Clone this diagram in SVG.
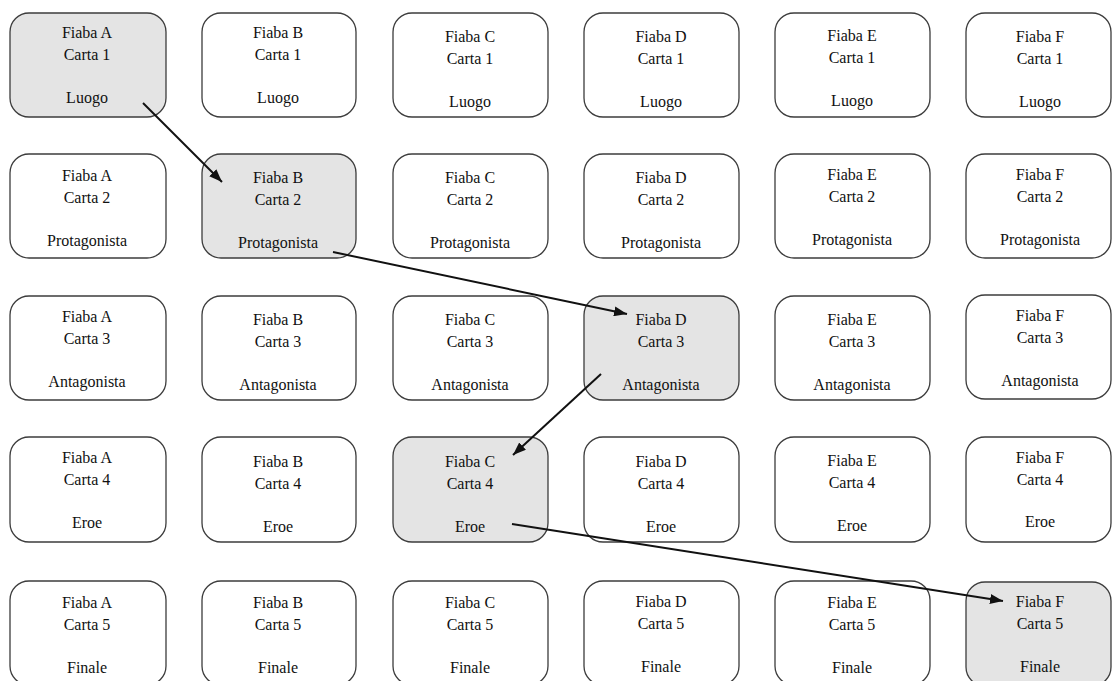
<svg xmlns="http://www.w3.org/2000/svg" width="1113" height="681" viewBox="0 0 1113 681">
<defs>
<style>
.box{fill:#ffffff;stroke:#3c3c3c;stroke-width:1.3}
.hl{fill:#e4e4e4}
text{font-family:"Liberation Serif","Times New Roman",serif;font-size:16px;fill:#111;text-anchor:middle}
.conn{stroke:#111;stroke-width:2;fill:none;marker-end:url(#ah)}
</style>
<marker id="ah" markerUnits="userSpaceOnUse" markerWidth="13" markerHeight="10" refX="13" refY="5" orient="auto">
<path d="M0,0 L13,5 L0,10 z" fill="#111"/>
</marker>
</defs>
<rect width="1113" height="681" fill="#fff"/>

<!-- Row 1 -->
<g id="A1"><rect class="box hl" x="10" y="13" width="156" height="104" rx="19"/><text x="87" y="38">Fiaba A</text><text x="87" y="60">Carta 1</text><text x="87" y="103">Luogo</text></g>
<g id="B1"><rect class="box" x="202" y="13" width="154" height="104" rx="19"/><text x="278" y="38">Fiaba B</text><text x="278" y="60">Carta 1</text><text x="278" y="103">Luogo</text></g>
<g id="C1"><rect class="box" x="393" y="13" width="155" height="104" rx="19"/><text x="470" y="42">Fiaba C</text><text x="470" y="64">Carta 1</text><text x="470" y="107">Luogo</text></g>
<g id="D1"><rect class="box" x="584" y="13" width="155" height="104" rx="19"/><text x="661" y="42">Fiaba D</text><text x="661" y="64">Carta 1</text><text x="661" y="107">Luogo</text></g>
<g id="E1"><rect class="box" x="775" y="13" width="155" height="104" rx="19"/><text x="852" y="41">Fiaba E</text><text x="852" y="63">Carta 1</text><text x="852" y="106">Luogo</text></g>
<g id="F1"><rect class="box" x="966" y="13" width="145" height="104" rx="19"/><text x="1040" y="42">Fiaba F</text><text x="1040" y="64">Carta 1</text><text x="1040" y="107">Luogo</text></g>

<!-- Row 2 -->
<g id="A2"><rect class="box" x="10" y="154" width="156" height="104" rx="19"/><text x="87" y="181">Fiaba A</text><text x="87" y="203">Carta 2</text><text x="87" y="246">Protagonista</text></g>
<g id="B2"><rect class="box hl" x="202" y="154" width="154" height="104" rx="19"/><text x="278" y="183">Fiaba B</text><text x="278" y="205">Carta 2</text><text x="278" y="248">Protagonista</text></g>
<g id="C2"><rect class="box" x="393" y="154" width="155" height="104" rx="19"/><text x="470" y="183">Fiaba C</text><text x="470" y="205">Carta 2</text><text x="470" y="248">Protagonista</text></g>
<g id="D2"><rect class="box" x="584" y="154" width="155" height="104" rx="19"/><text x="661" y="183">Fiaba D</text><text x="661" y="205">Carta 2</text><text x="661" y="248">Protagonista</text></g>
<g id="E2"><rect class="box" x="775" y="154" width="155" height="104" rx="19"/><text x="852" y="180">Fiaba E</text><text x="852" y="202">Carta 2</text><text x="852" y="245">Protagonista</text></g>
<g id="F2"><rect class="box" x="966" y="154" width="145" height="104" rx="19"/><text x="1040" y="180">Fiaba F</text><text x="1040" y="202">Carta 2</text><text x="1040" y="245">Protagonista</text></g>

<!-- Row 3 -->
<g id="A3"><rect class="box" x="10" y="296" width="156" height="104" rx="19"/><text x="87" y="322">Fiaba A</text><text x="87" y="344">Carta 3</text><text x="87" y="387">Antagonista</text></g>
<g id="B3"><rect class="box" x="202" y="296" width="154" height="104" rx="19"/><text x="278" y="325">Fiaba B</text><text x="278" y="347">Carta 3</text><text x="278" y="390">Antagonista</text></g>
<g id="C3"><rect class="box" x="393" y="296" width="155" height="104" rx="19"/><text x="470" y="325">Fiaba C</text><text x="470" y="347">Carta 3</text><text x="470" y="390">Antagonista</text></g>
<g id="D3"><rect class="box hl" x="584" y="296" width="155" height="104" rx="19"/><text x="661" y="325">Fiaba D</text><text x="661" y="347">Carta 3</text><text x="661" y="390">Antagonista</text></g>
<g id="E3"><rect class="box" x="775" y="296" width="155" height="104" rx="19"/><text x="852" y="325">Fiaba E</text><text x="852" y="347">Carta 3</text><text x="852" y="390">Antagonista</text></g>
<g id="F3"><rect class="box" x="966" y="295" width="145" height="104" rx="19"/><text x="1040" y="321">Fiaba F</text><text x="1040" y="343">Carta 3</text><text x="1040" y="386">Antagonista</text></g>

<!-- Row 4 -->
<g id="A4"><rect class="box" x="10" y="437" width="156" height="105" rx="19"/><text x="87" y="463">Fiaba A</text><text x="87" y="485">Carta 4</text><text x="87" y="528">Eroe</text></g>
<g id="B4"><rect class="box" x="202" y="437" width="154" height="105" rx="19"/><text x="278" y="467">Fiaba B</text><text x="278" y="489">Carta 4</text><text x="278" y="532">Eroe</text></g>
<g id="C4"><rect class="box hl" x="393" y="437" width="155" height="105" rx="19"/><text x="470" y="467">Fiaba C</text><text x="470" y="489">Carta 4</text><text x="470" y="532">Eroe</text></g>
<g id="D4"><rect class="box" x="584" y="437" width="155" height="105" rx="19"/><text x="661" y="467">Fiaba D</text><text x="661" y="489">Carta 4</text><text x="661" y="532">Eroe</text></g>
<g id="E4"><rect class="box" x="775" y="437" width="155" height="105" rx="19"/><text x="852" y="466">Fiaba E</text><text x="852" y="488">Carta 4</text><text x="852" y="531">Eroe</text></g>
<g id="F4"><rect class="box" x="966" y="437" width="145" height="105" rx="19"/><text x="1040" y="463">Fiaba F</text><text x="1040" y="485">Carta 4</text><text x="1040" y="527">Eroe</text></g>

<!-- Row 5 -->
<g id="A5"><rect class="box" x="10" y="581" width="156" height="104" rx="19"/><text x="87" y="608">Fiaba A</text><text x="87" y="630">Carta 5</text><text x="87" y="673">Finale</text></g>
<g id="B5"><rect class="box" x="202" y="581" width="154" height="104" rx="19"/><text x="278" y="608">Fiaba B</text><text x="278" y="630">Carta 5</text><text x="278" y="673">Finale</text></g>
<g id="C5"><rect class="box" x="393" y="581" width="155" height="104" rx="19"/><text x="470" y="608">Fiaba C</text><text x="470" y="630">Carta 5</text><text x="470" y="673">Finale</text></g>
<g id="D5"><rect class="box" x="584" y="581" width="155" height="104" rx="19"/><text x="661" y="607">Fiaba D</text><text x="661" y="629">Carta 5</text><text x="661" y="672">Finale</text></g>
<g id="E5"><rect class="box" x="775" y="581" width="155" height="104" rx="19"/><text x="852" y="608">Fiaba E</text><text x="852" y="630">Carta 5</text><text x="852" y="673">Finale</text></g>
<g id="F5"><rect class="box hl" x="966" y="582" width="145" height="104" rx="19"/><text x="1040" y="607">Fiaba F</text><text x="1040" y="629">Carta 5</text><text x="1040" y="672">Finale</text></g>

<g id="connectors">
<line class="conn" x1="143" y1="103" x2="222" y2="182"/>
<line class="conn" x1="333" y1="252" x2="627" y2="314"/>
<line class="conn" x1="601" y1="374" x2="513" y2="455"/>
<line class="conn" x1="512" y1="524" x2="1003" y2="601"/>
</g>
</svg>
